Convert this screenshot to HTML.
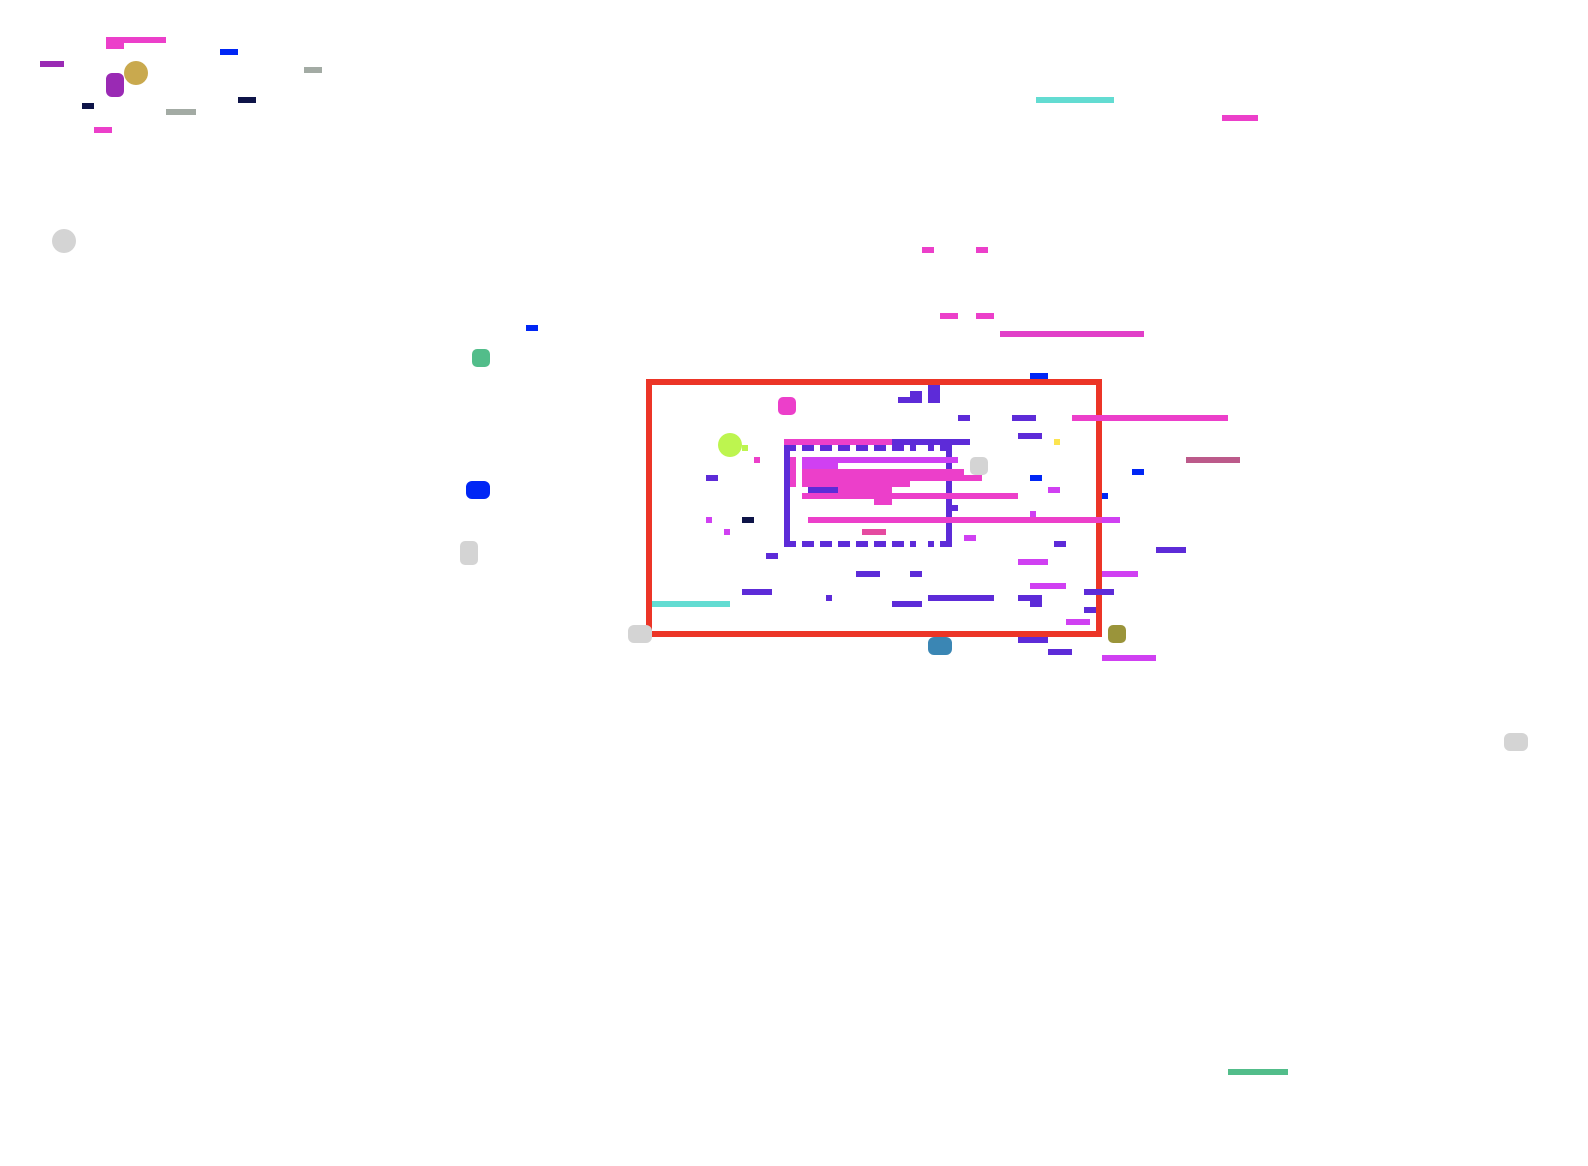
<!DOCTYPE html>
<html><head><meta charset="utf-8"><style>
html,body{margin:0;padding:0;background:#fff;}
#stage{position:relative;width:1588px;height:1166px;overflow:hidden;background:#fff;}
#stage div{position:absolute;}
</style></head><body>
<div id="stage">
<div style="left:646px;top:379px;width:444px;height:246px;border:6px solid #ec3527;"></div>
</div>
<script>
const rects = [
// [x,y,w,h,color,radius]
[106,37,60,6,'#ec3fca',0],[106,43,18,6,'#ec3fca',0],[40,61,24,6,'#9a2ab4',0],[220,49,18,6,'#0026f5',0],
[106,73,18,24,'#9a2ab4',6],[304,67,18,6,'#a3aba4',0],[82,103,12,6,'#0e1448',0],[166,109,30,6,'#a3aba4',0],
[238,97,18,6,'#0e1448',0],[94,127,18,6,'#ec3fca',0],
[526,325,12,6,'#0026f5',0],[472,349,18,18,'#52bd8a',5],[466,481,24,18,'#0026f5',6],[460,541,18,24,'#d4d4d4',5],
[628,625,24,18,'#d4d4d4',6],
[1036,97,78,6,'#63dcd2',0],[1222,115,36,6,'#ec3fca',0],[922,247,12,6,'#ec3fca',0],[976,247,12,6,'#ec3fca',0],
[940,313,18,6,'#ec3fca',0],[976,313,18,6,'#ec3fca',0],[1000,331,144,6,'#e13fc8',0],
[1030,373,18,6,'#0026f5',0],
[898,397,24,6,'#5d2bd8',0],[910,391,12,6,'#5d2bd8',0],[928,385,12,18,'#5d2bd8',0],
[778,397,18,18,'#ec3fca',5],[958,415,12,6,'#5d2bd8',0],[1012,415,24,6,'#5d2bd8',0],[1072,415,156,6,'#ec3fca',0],
[1018,433,24,6,'#5d2bd8',0],[1054,439,6,6,'#fce44f',0],[742,445,6,6,'#bdf54f',0],[754,457,6,6,'#ec3fca',0],
[784,439,108,6,'#ec3fca',0],[892,439,78,6,'#5d2bd8',0],
[784,445,6,102,'#5d2bd8',0],[946,445,6,102,'#5d2bd8',0],
[790,457,6,30,'#ec3fca',0],[802,457,156,6,'#d040f2',0],[802,463,36,6,'#d040f2',0],
[802,469,162,6,'#ec3fca',0],[802,475,180,6,'#ec3fca',0],[802,481,108,6,'#ec3fca',0],
[808,487,30,6,'#5d2bd8',0],[838,487,54,6,'#ec3fca',0],[802,493,216,6,'#ec3fca',0],[874,499,18,6,'#ec3fca',0],
[952,505,6,6,'#5d2bd8',0],[808,517,312,6,'#ec3fca',0],[1102,517,18,6,'#d040f2',0],[1030,511,6,6,'#d040f2',0],
[970,457,18,18,'#d4d4d4',5],[1030,475,12,6,'#0026f5',0],[1048,487,12,6,'#d040f2',0],[1102,493,6,6,'#0026f5',0],
[706,475,12,6,'#5d2bd8',0],[706,517,6,6,'#d040f2',0],[742,517,12,6,'#0e1448',0],[724,529,6,6,'#d040f2',0],
[862,529,24,6,'#e54aa0',0],[964,535,12,6,'#d040f2',0],[1054,541,12,6,'#5d2bd8',0],[766,553,12,6,'#5d2bd8',0],
[1018,559,30,6,'#d040f2',0],[856,571,24,6,'#5d2bd8',0],[910,571,12,6,'#5d2bd8',0],[1102,571,36,6,'#d040f2',0],
[1030,583,36,6,'#d040f2',0],[742,589,30,6,'#5d2bd8',0],[1084,589,30,6,'#5d2bd8',0],[826,595,6,6,'#5d2bd8',0],
[928,595,66,6,'#5d2bd8',0],[1018,595,24,6,'#5d2bd8',0],[1030,601,12,6,'#5d2bd8',0],[652,601,78,6,'#63dcd2',0],
[892,601,30,6,'#5d2bd8',0],[1084,607,12,6,'#5d2bd8',0],[1066,619,24,6,'#d040f2',0],
[1108,625,18,18,'#9a943a',5],[1018,637,30,6,'#5d2bd8',0],[928,637,24,18,'#3a86b4',6],[1048,649,24,6,'#5d2bd8',0],
[1102,655,54,6,'#d040f2',0],
[1186,457,54,6,'#bc5a8a',0],[1132,469,12,6,'#0026f5',0],[1156,547,30,6,'#5d2bd8',0],
[1504,733,24,18,'#d4d4d4',6],[1228,1069,60,6,'#52bd8a',0]
];
const circles = [[136,73,12,'#c9a94e'],[64,241,12,'#d4d4d4'],[730,445,12,'#bdf54f']];
const dashX = [784,802,820,838,856,874,892,910,928,940];
const dashW = [12,12,12,12,12,12,12,6,6,12];
const stage = document.getElementById('stage');
function mk(x,y,w,h,c,r){
  const d=document.createElement('div');
  d.style.cssText=`left:${x}px;top:${y}px;width:${w}px;height:${h}px;background:${c};border-radius:${r}px;`;
  stage.appendChild(d);return d;
}
rects.forEach(a=>{
  const d=mk(...a);
  
  
});
dashX.forEach((x,i)=>{
  [445,541].forEach(y=>{
    const d=mk(x,y,dashW[i],6,'#5d2bd8',0);
    
    
  });
});
circles.forEach(c=>{
  const d=mk(c[0]-c[2],c[1]-c[2],c[2]*2,c[2]*2,c[3],c[2]);
  
  
});
</script>
</body></html>
